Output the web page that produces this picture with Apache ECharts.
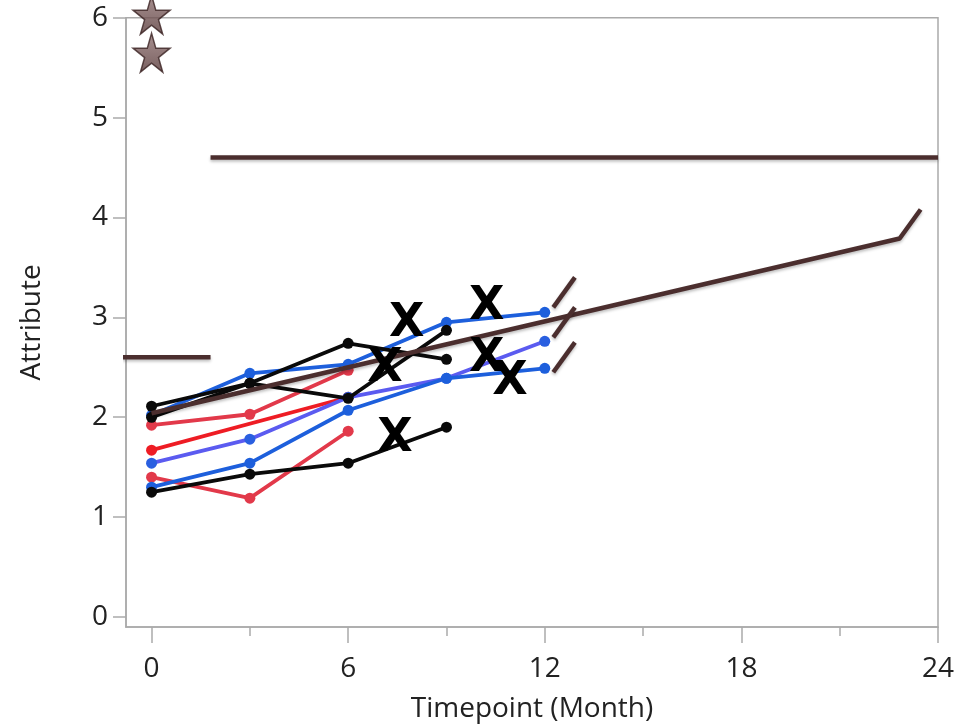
<!DOCTYPE html>
<html><head><meta charset="utf-8">
<script src="https://cdn.jsdelivr.net/npm/echarts@6/dist/echarts.min.js"></script>
<style>html,body{margin:0;padding:0;background:#fff}#chart{width:963px;height:728px}</style>
</head><body><div id="chart"></div>
<script>
// ---- data ----
const months = [0, 3, 6, 9, 12];
const xTickLabels = [0, 6, 12, 18, 24];
const xMinorTicks = [3, 9, 15, 21];
const yTickLabels = [0, 1, 2, 3, 4, 5, 6];

const black1 = [2.11, 2.34, 2.19, 2.87];
const black2 = [2.00, 2.34, 2.74, 2.58];
const black3 = [1.25, 1.43, 1.54, 1.90];
const blue1 = [2.02, 2.44, 2.53, 2.95, 3.05];
const blue2 = [1.30, 1.54, 2.07, 2.39, 2.49];
const violet1 = [1.54, 1.78, 2.20, 2.39, 2.76];
const red1 = [1.67, null, 2.20];
const rose1 = [1.92, 2.03, 2.47];
const rose2 = [1.40, 1.19, 1.86];

const specLower = [[-0.88, 2.6], [1.8, 2.6]];
const specUpper = [[1.8, 4.6], [24, 4.6]];
const trendLine = [[0, 2.04], [22.83, 3.79], [23.47, 4.08]];
const ciMarkUpper = [[12.26, 3.10], [12.92, 3.40]];
const ciMarkMid = [[12.26, 2.80], [12.92, 3.10]];
const ciMarkLower = [[12.26, 2.45], [12.92, 2.75]];
const outlierStars = [[0, 6.03], [0, 5.65]];
const xMarks = [[7.79, 2.97], [10.23, 3.14], [7.12, 2.52], [10.23, 2.62], [10.94, 2.39], [7.43, 1.82]];

// ---- chart ----
const FONT = 'Open Sans';
const AXIS_GREY = '#aaaaaa';
const BROWN = '#4b2e2e';
const pairs = vals => vals.map((v, i) => v == null ? null : [months[i], v]).filter(Boolean);

function lotLine(vals, lineColor, dotColor, z) {
  return {
    type: 'line', data: pairs(vals), z: z,
    symbol: 'circle', symbolSize: 11, showSymbol: true,
    lineStyle: { color: lineColor, width: 3.8 },
    itemStyle: { color: dotColor || lineColor },
    emphasis: { disabled: true }
  };
}
function brownLine(data, z, clip) {
  return {
    type: 'line', data: data, z: z, clip: clip !== false,
    symbol: 'none',
    lineStyle: { color: BROWN, width: 4.5, shadowColor: 'rgba(0,0,0,0.25)', shadowBlur: 3, shadowOffsetY: 2 },
    emphasis: { disabled: true }
  };
}

const starPath = 'path://M50,0 L61,35 L98,35 L68,57 L79,91 L50,70 L21,91 L32,57 L2,35 L39,35 Z';

const option = {
  animation: false,
  backgroundColor: '#ffffff',
  grid: { left: 126, right: 25, top: 17.7, bottom: 101, show: true, borderColor: AXIS_GREY, borderWidth: 1.5 },
  xAxis: [{
    type: 'value', min: -0.78, max: 24, position: 'bottom',
    axisLine: { show: true, onZero: false, lineStyle: { color: AXIS_GREY, width: 1.5 } },
    axisTick: { show: true, customValues: xTickLabels, length: 16, lineStyle: { color: AXIS_GREY, width: 1.5 } },
    axisLabel: { customValues: xTickLabels, fontSize: 28, color: '#222', fontFamily: FONT, margin: 28 },
    splitLine: { show: false },
    name: 'Timepoint (Month)', nameLocation: 'middle', nameGap: 68,
    nameTextStyle: { fontSize: 28, color: '#222', fontFamily: FONT }
  }, {
    type: 'value', min: -0.78, max: 24, position: 'bottom',
    axisLine: { show: false, onZero: false },
    axisTick: { show: true, customValues: xMinorTicks, length: 9, lineStyle: { color: AXIS_GREY, width: 1.5 } },
    axisLabel: { show: false },
    splitLine: { show: false }
  }],
  yAxis: {
    type: 'value', min: -0.1, max: 6,
    axisLine: { show: true, onZero: false, lineStyle: { color: AXIS_GREY, width: 1.5 } },
    axisTick: { show: true, customValues: yTickLabels, length: 13, lineStyle: { color: AXIS_GREY, width: 1.5 } },
    axisLabel: { customValues: yTickLabels, fontSize: 28, color: '#222', fontFamily: FONT, margin: 18 },
    splitLine: { show: false },
    name: 'Attribute', nameLocation: 'middle', nameGap: 80,
    nameTextStyle: { fontSize: 28, color: '#222', fontFamily: FONT }
  },
  series: [
    lotLine(red1, '#ee1c24', null, 2),
    lotLine(rose1, '#e2394a', null, 2),
    lotLine(rose2, '#e2394a', null, 2),
    lotLine(violet1, '#5b5bf0', '#2a5fe0', 3),
    lotLine(blue1, '#1d5fdc', null, 3),
    lotLine(blue2, '#1d5fdc', null, 3),
    lotLine(black1, '#0a0a0a', null, 4),
    lotLine(black2, '#0a0a0a', null, 4),
    lotLine(black3, '#0a0a0a', null, 4),
    brownLine(specLower, 5, false),
    brownLine(specUpper, 5),
    brownLine(trendLine, 5),
    brownLine(ciMarkUpper, 5),
    brownLine(ciMarkMid, 5),
    brownLine(ciMarkLower, 5),
    {
      type: 'scatter', data: outlierStars, z: 6, clip: false,
      symbol: starPath, symbolSize: [37, 39],
      itemStyle: {
        color: { type: 'linear', x: 0, y: 0, x2: 0, y2: 1, colorStops: [{ offset: 0, color: '#927575' }, { offset: 1, color: '#573838' }] },
        borderColor: '#3a2222', borderWidth: 1.5
      },
      emphasis: { disabled: true }
    },
    {
      type: 'scatter', data: xMarks, z: 7, clip: false,
      symbol: 'circle', symbolSize: 1, itemStyle: { color: 'rgba(0,0,0,0)' },
      label: { show: true, position: 'inside', offset: [0, 4], formatter: 'X', fontSize: 46, fontWeight: 'bold', color: '#000000', textBorderWidth: 0, opacity: 1, fontFamily: 'DejaVu Sans' },
      emphasis: { disabled: true }
    }
  ]
};
echarts.init(document.getElementById('chart'), null, { renderer: 'canvas' }).setOption(option);
</script>
</body></html>
